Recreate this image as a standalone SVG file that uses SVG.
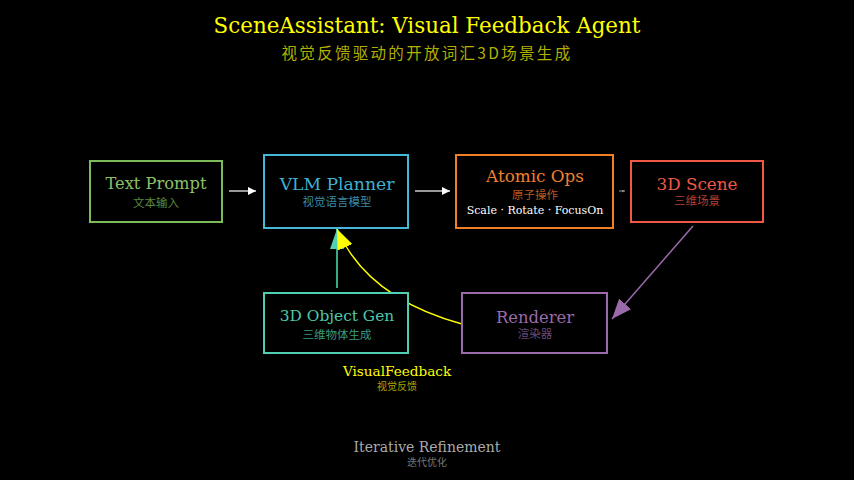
<svg xmlns="http://www.w3.org/2000/svg" width="854" height="480" viewBox="0 0 854 480">
<defs>
<style>
.lat{font-family:"DejaVu Serif",serif;text-anchor:middle}
.cjk{font-family:"Noto Sans CJK SC","Noto Sans",sans-serif;text-anchor:middle}
.box{fill:#000;stroke-width:2}
</style>
<marker id="ahW" viewBox="0 0 10 10" refX="10" refY="5" markerWidth="8" markerHeight="8" markerUnits="userSpaceOnUse" orient="auto"><path d="M0,0L10,5L0,10z" fill="#ffffff"/></marker>
<marker id="ahG" viewBox="0 0 10 10" refX="10" refY="5" markerWidth="3" markerHeight="3" markerUnits="userSpaceOnUse" orient="auto"><path d="M0,0L10,5L0,10z" fill="#888"/></marker>
<marker id="ahT" viewBox="0 0 20 14" refX="20" refY="7" markerWidth="20" markerHeight="14" markerUnits="userSpaceOnUse" orient="auto"><path d="M0,0L20,7L0,14z" fill="#50d0b0"/></marker>
<marker id="ahY" viewBox="0 0 20 16" refX="20" refY="8" markerWidth="20" markerHeight="16" markerUnits="userSpaceOnUse" orient="auto"><path d="M0,0L20,8L0,16z" fill="#ffff00"/></marker>
<marker id="ahP" viewBox="0 0 20 16" refX="20" refY="8" markerWidth="20" markerHeight="16" markerUnits="userSpaceOnUse" orient="auto"><path d="M0,0L20,8L0,16z" fill="#9a6aaa"/></marker>
</defs>
<rect width="854" height="480" fill="#000"/>
<g id="title">
<text class="lat" x="427" y="33" font-size="21.4" fill="#ffff00">SceneAssistant: Visual Feedback Agent</text>
<text class="cjk" x="427" y="59" font-size="15.5" letter-spacing="2.3" fill="#b0b000">视觉反馈驱动的开放词汇3D场景生成</text>
</g>
<g id="connectors" fill="none">
<line x1="229" y1="191" x2="256" y2="191" stroke="#cccccc" stroke-width="1.5" marker-end="url(#ahW)"/>
<line x1="415" y1="191" x2="450" y2="191" stroke="#cccccc" stroke-width="1.5" marker-end="url(#ahW)"/>
<line x1="619" y1="191" x2="625" y2="191" stroke="#666" stroke-width="1.5" marker-end="url(#ahG)"/>
<line x1="693" y1="226" x2="612" y2="319" stroke="#9a6aaa" stroke-width="1.5" marker-end="url(#ahP)"/>
<line x1="337" y1="288" x2="337" y2="229" stroke="#3aa888" stroke-width="2" marker-end="url(#ahT)"/>
<path d="M462,324 Q367,298 337,229" stroke="#ffff00" stroke-width="1.5" marker-end="url(#ahY)"/>
</g>
<g id="text-prompt">
<rect class="box" x="90" y="161" width="132" height="61" stroke="#7dba5a"/>
<text class="lat" x="156" y="188.5" font-size="16.3" fill="#8cc068">Text Prompt</text>
<text class="cjk" x="156" y="206.5" font-size="11.5" fill="#5a8840">文本输入</text>
</g>
<g id="vlm-planner">
<rect class="box" x="264" y="155" width="144" height="73" stroke="#45b8d8"/>
<text class="lat" x="337" y="189.5" font-size="17.2" fill="#40b0d0">VLM Planner</text>
<text class="cjk" x="337" y="206" font-size="11.5" fill="#3a8aa0">视觉语言模型</text>
</g>
<g id="atomic-ops">
<rect class="box" x="456" y="155" width="157" height="73" stroke="#f08028"/>
<text class="lat" x="535" y="181.5" font-size="16.8" fill="#f08030">Atomic Ops</text>
<text class="cjk" x="535" y="198.5" font-size="11.5" fill="#b85a20">原子操作</text>
<text class="lat" x="535" y="213.5" font-size="11" fill="#ffffff">Scale · Rotate · FocusOn</text>
</g>
<g id="scene-3d">
<rect class="box" x="631" y="161" width="132" height="61" stroke="#f05848"/>
<text class="lat" x="697" y="189.5" font-size="16.8" fill="#f05848">3D Scene</text>
<text class="cjk" x="697" y="205" font-size="11.5" fill="#b04035">三维场景</text>
</g>
<g id="object-gen">
<rect class="box" x="264" y="293" width="144" height="60" stroke="#50d0b0"/>
<text class="lat" x="337" y="320.5" font-size="15.4" fill="#50c8a8">3D Object Gen</text>
<text class="cjk" x="337" y="338.5" font-size="11.5" fill="#3a9a80">三维物体生成</text>
</g>
<g id="renderer">
<rect class="box" x="462" y="293" width="145" height="60" stroke="#9a6aaa"/>
<text class="lat" x="535" y="322.5" font-size="16.4" fill="#9a6aaa">Renderer</text>
<text class="cjk" x="535" y="338" font-size="11.5" fill="#6a4a78">渲染器</text>
</g>
<g id="labels">
<text class="lat" x="397" y="375.5" font-size="13.6" fill="#ffff00">VisualFeedback</text>
<text class="cjk" x="397" y="389.5" font-size="10" fill="#a8a800">视觉反馈</text>
<text class="lat" x="427" y="451.5" font-size="14" fill="#aaaaaa">Iterative Refinement</text>
<text class="cjk" x="427" y="465.5" font-size="10" fill="#777777">迭代优化</text>
</g>
</svg>
